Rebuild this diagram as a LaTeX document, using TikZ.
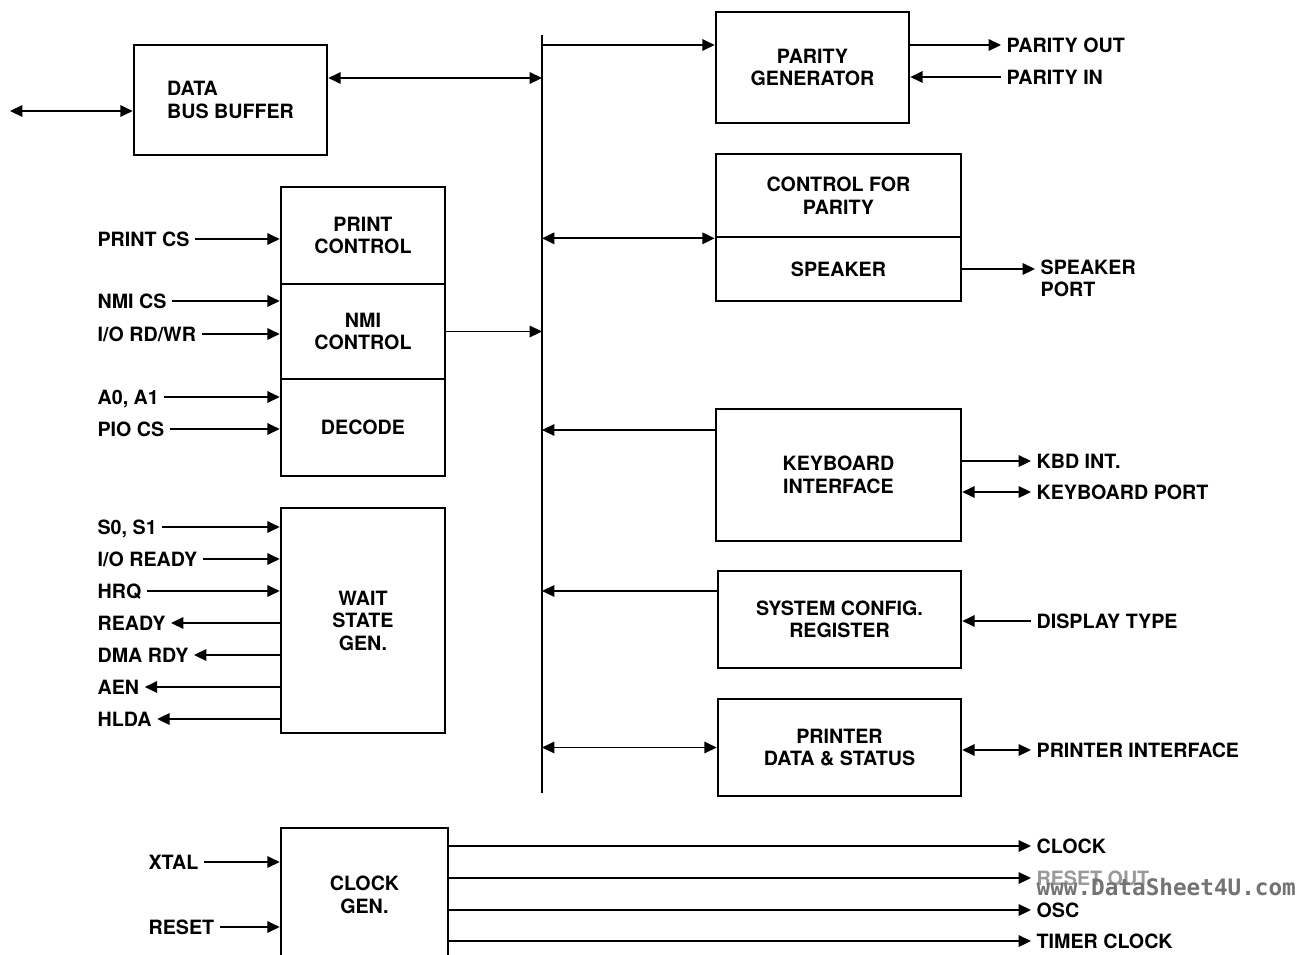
\documentclass[tikz,border=0pt]{standalone}
\usepackage{fontspec}
\setmainfont{TeX Gyre Heros}
\newfontfamily\wmfont{DejaVu Sans Mono}
\usetikzlibrary{positioning,arrows.meta}
\tikzset{
	blk/.style={draw,line width=1.5pt,align=center,inner sep=2pt},
	sig/.style={inner sep=3pt,text height=8pt,text depth=0pt},
	wire/.style={line width=1pt},
	fwd/.style={wire,-{Triangle[length=7pt,width=6.5pt]}},
	dual/.style={wire,{Triangle[length=7pt,width=6.5pt]}-{Triangle[length=7pt,width=6.5pt]}},
}

\begin{document}
\begin{tikzpicture}[x=0.02cm,y=-0.02cm,font=\fontsize{11.2}{12.8}\selectfont\bfseries]
	\useasboundingbox (0,0) rectangle (1299,954);
	% blocks
	\node[blk,align=left,minimum width=3.86cm,minimum height=2.2cm] (dbb) at (230.5,100) {DATA\\BUS BUFFER};
	\node[blk,minimum width=3.28cm,minimum height=1.94cm] (prt) at (363,235.5) {PRINT\\CONTROL};
	\node[blk,minimum width=3.28cm,minimum height=1.9cm] (nmi) at (363,331.5) {NMI\\CONTROL};
	\node[blk,minimum width=3.28cm,minimum height=1.94cm] (dec) at (363,427.5) {DECODE};
	\node[blk,minimum width=3.28cm,minimum height=4.5cm] (wsg) at (363,620.5) {WAIT\\STATE\\GEN.};
	\node[blk,minimum width=3.34cm,minimum height=2.68cm] (clk) at (364.5,895) {CLOCK\\GEN.};
	\node[blk,minimum width=3.86cm,minimum height=2.22cm] (par) at (812.5,67.5) {PARITY\\GENERATOR};
	\node[blk,minimum width=4.9cm,minimum height=1.66cm] (cfp) at (838.5,195.5) {CONTROL FOR\\PARITY};
	\node[blk,minimum width=4.9cm,minimum height=1.28cm] (spk) at (838.5,269) {SPEAKER};
	\node[blk,minimum width=4.9cm,minimum height=2.64cm] (kbd) at (838.5,475) {KEYBOARD\\INTERFACE};
	\node[blk,minimum width=4.86cm,minimum height=1.94cm] (cfg) at (839.5,619.5) {SYSTEM CONFIG.\\REGISTER};
	\node[blk,minimum width=4.86cm,minimum height=1.94cm] (pds) at (839.5,747.5) {PRINTER\\DATA \& STATUS};
	% bus
	\coordinate (busT) at (542,35);
	\coordinate (busB) at (542,793);
	\draw[line width=1.5pt] (busT) -- (busB);
	\foreach \y in {45,78,430,591}
	\coordinate (tap\y) at (542,\y);
	\coordinate (ext) at (10,111);
	\draw[dual] (ext) -- (ext -| dbb.west);
	\draw[dual] (dbb.east |- tap78) -- (tap78);
	\draw[fwd] (tap45) -- (tap45 -| par.west);
	\draw[dual] (busT |- cfp.south west) -- (cfp.south west);
	\draw[fwd] (nmi.east) -- (nmi.east -| busT);
	\draw[fwd] (tap430 -| kbd.west) -- (tap430);
	\draw[fwd] (tap591 -| cfg.west) -- (tap591);
	\draw[dual] (busT |- pds.west) -- (pds.west);
	% left side signals
	\foreach \n/\t/\y/\b in {pcs/PRINT CS/239/prt, nmics/NMI CS/301/nmi, iorw/I\slash O RD\slash WR/334/nmi,
		aa/{A0, A1}/397/dec, pio/PIO CS/429/dec, ss/{S0, S1}/527/wsg, iordy/I\slash O READY/559/wsg, hrq/HRQ/591/wsg}
	{
		\node[sig,anchor=west] (\n) at (92,\y) {\t};
		\draw[fwd] (\n.east) -- (\n.east -| \b.west);
	}
	\foreach \n/\t/\y in {rdy/READY/623, dma/DMA RDY/655, aen/AEN/687, hlda/HLDA/719}
	{
		\node[sig,anchor=west] (\n) at (92,\y) {\t};
		\draw[fwd] (\n.east -| wsg.west) -- (\n.east);
	}
	\foreach \n/\t/\y in {xtal/XTAL/862, rst/RESET/927}
	{
		\node[sig,anchor=west] (\n) at (143,\y) {\t};
		\draw[fwd] (\n.east) -- (\n.east -| clk.west);
	}
	% right side signals
	\node[sig,anchor=west] (pout) at (1001,45) {PARITY OUT};
	\node[sig,anchor=west] (pin) at (1001,77) {PARITY IN};
	\draw[fwd] (pout.west -| par.east) -- (pout.west);
	\draw[fwd] (pin.west) -- (pin.west -| par.east);
	\node[anchor=west,align=left,inner sep=3pt] (sport) at (1035,278.5) {SPEAKER\\PORT};
	\draw[fwd] (spk.east) -- (spk.east -| sport.west);
	\node[sig,anchor=west] (kint) at (1031,461) {KBD INT.};
	\node[sig,anchor=west] (kport) at (1031,492) {KEYBOARD PORT};
	\draw[fwd] (kint.west -| kbd.east) -- (kint.west);
	\draw[dual] (kport.west -| kbd.east) -- (kport.west);
	\node[sig,anchor=west] (dtype) at (1031,621) {DISPLAY TYPE};
	\draw[fwd] (dtype.west) -- (dtype.west -| cfg.east);
	\node[sig,anchor=west] (pint) at (1031,750) {PRINTER INTERFACE};
	\draw[dual] (pint.west -| pds.east) -- (pint.west);
	% clock outputs
	\foreach \n/\t/\y/\c in {clko/CLOCK/846/black, rsto/RESET OUT/878/black!40, osc/OSC/910/black, tclk/TIMER CLOCK/941/black}
	{
		\node[sig,anchor=west,text=\c] (\n) at (1031,\y) {\t};
		\draw[fwd] (\n.west -| clk.east) -- (\n.west);
	}
	\node[sig,anchor=west,text=black!55,font={\wmfont\fontsize{12.9}{14}\selectfont\bfseries}] (wm) at (1031,888) {www.DataSheet4U.com};
\end{tikzpicture}
\end{document}
